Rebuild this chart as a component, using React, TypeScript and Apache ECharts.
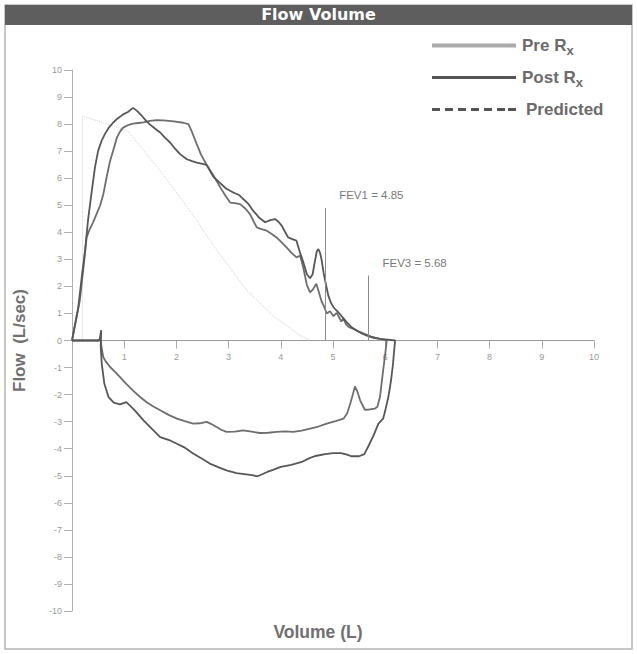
import React, { useEffect, useRef } from "react";
import * as echarts from "echarts";

// ---- Data (volume L, flow L/sec) ----
const titleText = "Flow Volume";
const xAxisTitle = "Volume (L)";
const yAxisTitle = "Flow  (L/sec)";
const seriesNames = ["Pre Rx", "Post Rx", "Predicted"];

const preRxExpiration: number[][] = [
  [0, 0], [0.07, 0.7], [0.15, 1.48], [0.22, 2.7], [0.28, 3.81], [0.34, 4.12], [0.4, 4.35], [0.47, 4.67],
  [0.54, 5.0], [0.6, 5.41], [0.67, 6.1], [0.73, 6.64], [0.8, 7.1], [0.86, 7.5], [0.92, 7.72], [0.98, 7.87],
  [1.07, 7.96], [1.17, 8.02], [1.27, 8.04], [1.37, 8.06], [1.49, 8.12], [1.62, 8.15], [1.75, 8.14],
  [1.95, 8.1], [2.13, 8.05], [2.23, 8.0], [2.3, 7.7], [2.39, 7.26], [2.47, 6.88], [2.58, 6.49], [2.71, 6.1],
  [2.84, 5.66], [2.94, 5.35], [3.03, 5.1], [3.12, 5.08], [3.22, 5.04], [3.32, 4.88], [3.41, 4.67],
  [3.48, 4.4], [3.54, 4.18], [3.63, 4.12], [3.73, 4.06], [3.82, 3.95], [3.92, 3.81], [4.02, 3.62],
  [4.11, 3.44], [4.2, 3.25], [4.3, 3.07], [4.37, 3.14], [4.43, 2.7], [4.5, 2.05], [4.56, 1.78], [4.62, 1.9],
  [4.68, 2.1], [4.72, 1.85], [4.78, 1.45], [4.82, 1.3], [4.88, 1.0], [4.94, 1.08], [5.01, 0.9], [5.07, 1.02],
  [5.12, 0.85], [5.16, 0.7], [5.2, 0.82], [5.25, 0.6], [5.3, 0.5], [5.39, 0.43], [5.5, 0.33], [5.6, 0.25],
  [5.72, 0.15], [5.82, 0.1], [5.95, 0.04], [6.03, 0],
];
const preRxInspiration: number[][] = [
  [6.03, 0], [6.0, -0.5], [5.96, -1.11], [5.9, -2.09], [5.85, -2.45], [5.8, -2.52], [5.7, -2.55],
  [5.61, -2.56], [5.52, -2.21], [5.46, -1.85], [5.42, -1.7], [5.38, -2.0], [5.33, -2.34], [5.27, -2.7],
  [5.2, -2.89], [5.05, -2.98], [4.88, -3.07], [4.72, -3.18], [4.56, -3.26], [4.4, -3.33], [4.24, -3.38],
  [4.08, -3.36], [3.92, -3.38], [3.76, -3.41], [3.6, -3.42], [3.44, -3.37], [3.28, -3.32], [3.12, -3.37],
  [2.96, -3.38], [2.86, -3.3], [2.77, -3.2], [2.66, -3.08], [2.58, -3.01], [2.45, -3.06], [2.32, -3.07],
  [2.16, -2.98], [2.01, -2.89], [1.85, -2.75], [1.69, -2.58], [1.55, -2.43], [1.43, -2.28], [1.3, -2.08],
  [1.17, -1.85], [1.04, -1.6], [0.92, -1.35], [0.82, -1.15], [0.73, -0.98], [0.65, -0.78], [0.6, -0.62],
  [0.57, -0.3], [0.55, 0], [0.5, 0], [0, 0],
];
const postRxExpiration: number[][] = [
  [0, 0], [0.05, 0.5], [0.12, 1.23], [0.19, 2.4], [0.25, 3.32], [0.31, 4.5], [0.38, 5.54], [0.44, 6.4],
  [0.5, 7.01], [0.57, 7.4], [0.63, 7.63], [0.71, 7.88], [0.79, 8.06], [0.88, 8.22], [0.98, 8.36],
  [1.07, 8.45], [1.17, 8.6], [1.25, 8.48], [1.34, 8.3], [1.42, 8.12], [1.49, 7.99], [1.6, 7.82],
  [1.69, 7.69], [1.78, 7.5], [1.88, 7.32], [1.97, 7.1], [2.07, 6.89], [2.2, 6.7], [2.3, 6.63], [2.39, 6.58],
  [2.5, 6.53], [2.58, 6.49], [2.71, 6.05], [2.84, 5.82], [2.95, 5.62], [3.09, 5.47], [3.2, 5.38],
  [3.28, 5.23], [3.38, 5.05], [3.47, 4.8], [3.58, 4.55], [3.7, 4.37], [3.8, 4.45], [3.89, 4.49],
  [3.96, 4.38], [4.02, 4.24], [4.08, 4.02], [4.14, 3.81], [4.22, 3.75], [4.3, 3.69], [4.36, 3.3],
  [4.43, 2.9], [4.5, 2.45], [4.56, 2.3], [4.61, 2.45], [4.65, 2.9], [4.69, 3.3], [4.72, 3.38], [4.75, 3.25],
  [4.78, 3.0], [4.82, 2.5], [4.85, 2.21], [4.91, 1.66], [4.96, 1.4], [5.01, 1.23], [5.07, 1.1], [5.13, 0.98],
  [5.2, 0.82], [5.26, 0.68], [5.35, 0.5], [5.45, 0.37], [5.55, 0.26], [5.65, 0.18], [5.78, 0.1], [5.9, 0.06],
  [6.05, 0.03], [6.19, 0],
];
const postRxInspiration: number[][] = [
  [6.19, 0], [6.17, -0.4], [6.15, -0.86], [6.11, -1.5], [6.06, -2.09], [6.0, -2.6], [5.96, -2.89],
  [5.87, -3.07], [5.78, -3.5], [5.68, -3.9], [5.6, -4.2], [5.5, -4.28], [5.35, -4.28], [5.27, -4.22],
  [5.15, -4.16], [5.0, -4.16], [4.85, -4.2], [4.66, -4.27], [4.55, -4.35], [4.4, -4.49], [4.2, -4.6],
  [4.0, -4.67], [3.85, -4.78], [3.74, -4.86], [3.6, -4.98], [3.55, -5.02], [3.45, -4.98], [3.3, -4.94],
  [3.15, -4.9], [2.96, -4.8], [2.8, -4.68], [2.64, -4.55], [2.5, -4.38], [2.32, -4.18], [2.15, -3.95],
  [2.0, -3.81], [1.86, -3.68], [1.69, -3.57], [1.55, -3.3], [1.37, -2.95], [1.22, -2.62], [1.14, -2.46],
  [1.04, -2.28], [0.92, -2.36], [0.8, -2.3], [0.7, -2.09], [0.62, -1.6], [0.57, -0.86], [0.55, -0.2],
  [0.56, 0.38], [0.53, 0.05], [0.5, 0], [0, 0],
];
const predicted: number[][] = [
  [0.2, 0], [0.2, 8.3], [1.07, 7.75], [1.69, 6.27], [2.26, 4.8], [2.78, 3.32], [3.35, 1.85],
  [3.85, 0.92], [4.37, 0.18], [4.56, 0],
];
const fevLabels = ["FEV1 = 4.85", "FEV3 = 5.68"];
const fevVolumes = [4.85, 5.68];
const fevMarkerTops = [4.9, 2.4];

const xTicks = { min: 0, max: 10, interval: 1 };
const yTicks = { min: -10, max: 10, interval: 1 };

const richLegend = (name: string) => {
  if (name === "Pre Rx") return "{m|Pre R}{s|x}";
  if (name === "Post Rx") return "{m|Post R}{s|x}";
  return "{p|" + name + "}";
};

const GRID_TOP = 70;
const GRID_BOTTOM = 43;
const CHART_H = 654;

export default function App() {
  const ref = useRef<HTMLDivElement>(null);
  useEffect(() => {
    document.body.style.margin = "0";
    const chart = echarts.init(ref.current!, null, { renderer: "svg" });
    const font = "'Liberation Sans', Arial, sans-serif";
    const gridH = CHART_H - GRID_TOP - GRID_BOTTOM;
    const zeroFromBottom = gridH * (0 - yTicks.min) / (yTicks.max - yTicks.min);
    const option: any = {
      animation: false,
      backgroundColor: "#ffffff",
      textStyle: { fontFamily: font },
      title: {
        text: titleText,
        left: "center",
        top: 4,
        padding: 2,
        textStyle: { color: "#ffffff", fontSize: 16, fontWeight: "bold", fontFamily: "'DejaVu Sans', sans-serif" },
      },
      graphic: [
        { type: "rect", z: -1, shape: { x: 5, y: 5, width: 627, height: 644 }, style: { fill: "none", stroke: "#b5b5b5", lineWidth: 1.5 } },
        { type: "rect", z: 0, shape: { x: 5, y: 5, width: 627, height: 20 }, style: { fill: "#5e5e5e" } },
        {
          type: "text", x: 318, y: 632,
          style: { text: xAxisTitle, fill: "#707070", font: "bold 17.5px 'Liberation Sans', Arial, sans-serif", textAlign: "center", textVerticalAlign: "middle" },
        },
      ],
      legend: {
        orient: "vertical",
        left: 427,
        top: 32,
        itemWidth: 84,
        itemHeight: 4,
        itemGap: 12,
        selectedMode: false,
        formatter: richLegend,
        textStyle: {
          color: "#6b6b6b",
          fontFamily: font,
          rich: {
            m: { fontSize: 17, fontWeight: "bold", color: "#6b6b6b", fontFamily: font, padding: [0, 0, 0, 1] },
            s: { fontSize: 13, fontWeight: "bold", color: "#6b6b6b", fontFamily: font, padding: [10, 0, 0, 0] },
            p: { fontSize: 17, fontWeight: "bold", color: "#6b6b6b", fontFamily: font, padding: [0, 0, 0, 5] },
          },
        },
        data: [
          { name: seriesNames[0], icon: "rect", itemStyle: { color: "#ababab", borderWidth: 0 } },
          { name: seriesNames[1], icon: "path://M0,0H84V3H0Z", itemStyle: { color: "#555555", borderWidth: 0 } },
          {
            name: seriesNames[2],
            icon: "path://M0,0h8v3h-8zM13,0h8v3h-8zM26,0h8v3h-8zM39,0h8v3h-8zM52,0h8v3h-8zM65,0h8v3h-8zM76,0h8v3h-8z",
            itemStyle: { color: "#555555", borderWidth: 0 },
          },
        ],
      },
      grid: { left: 72, right: 43, top: GRID_TOP, bottom: GRID_BOTTOM },
      xAxis: {
        type: "value",
        position: "bottom",
        offset: -zeroFromBottom,
        min: xTicks.min,
        max: xTicks.max,
        interval: xTicks.interval,
        axisLine: { onZero: false, lineStyle: { color: "#9a9a9a", width: 1 } },
        axisTick: { show: true, length: 8, lineStyle: { color: "#aaaaaa" } },
        axisLabel: { color: "#9a9a9a", fontSize: 9, margin: 12, formatter: (v: number) => (v === 0 ? "" : String(v)) },
        splitLine: { show: false },
      },
      yAxis: {
        type: "value",
        min: yTicks.min,
        max: yTicks.max,
        interval: yTicks.interval,
        name: yAxisTitle,
        nameLocation: "middle",
        nameGap: 44,
        nameRotate: 90,
        nameTextStyle: { color: "#707070", fontSize: 17, fontWeight: "bold", fontFamily: font },
        axisLine: { show: true, onZero: false, lineStyle: { color: "#b0b0b0", width: 1 } },
        axisTick: { show: true, length: 8, lineStyle: { color: "#b0b0b0" } },
        axisLabel: { color: "#9a9a9a", fontSize: 9, margin: 10 },
        splitLine: { show: false },
      },
      series: [
        {
          name: seriesNames[0], type: "line", symbol: "none", smooth: false,
          data: [...preRxExpiration, ...preRxInspiration.slice(1)],
          lineStyle: { color: "#6e6e6e", width: 1.8 }, itemStyle: { color: "#ababab" }, z: 3,
        },
        {
          name: seriesNames[1], type: "line", symbol: "none", smooth: false,
          data: [...postRxExpiration, ...postRxInspiration.slice(1)],
          lineStyle: { color: "#575757", width: 1.8 }, itemStyle: { color: "#555555" }, z: 4,
        },
        {
          name: seriesNames[2], type: "line", symbol: "none", smooth: false,
          data: predicted,
          lineStyle: { color: "#cfcfcf", width: 1, type: "dotted" }, itemStyle: { color: "#555555" }, z: 2,
        },
        {
          name: "FEV", type: "line", symbol: "none", data: [],
          markLine: {
            silent: true,
            symbol: ["none", "none"],
            lineStyle: { color: "#8a8a8a", width: 1, type: "solid" },
            label: {
              show: true, position: "end", color: "#7a7a7a", fontSize: 11.5, fontFamily: font,
              formatter: (p: any) => p.name, align: "left", offset: [14, -2],
            },
            data: fevVolumes.map((v, i) => [
              { name: fevLabels[i], coord: [v, 0] },
              { coord: [v, fevMarkerTops[i]] },
            ]),
          },
        },
      ],
    };
    chart.setOption(option);
    return () => chart.dispose();
  }, []);
  return <div ref={ref} style={{ width: 637, height: 654 }} />;
}
